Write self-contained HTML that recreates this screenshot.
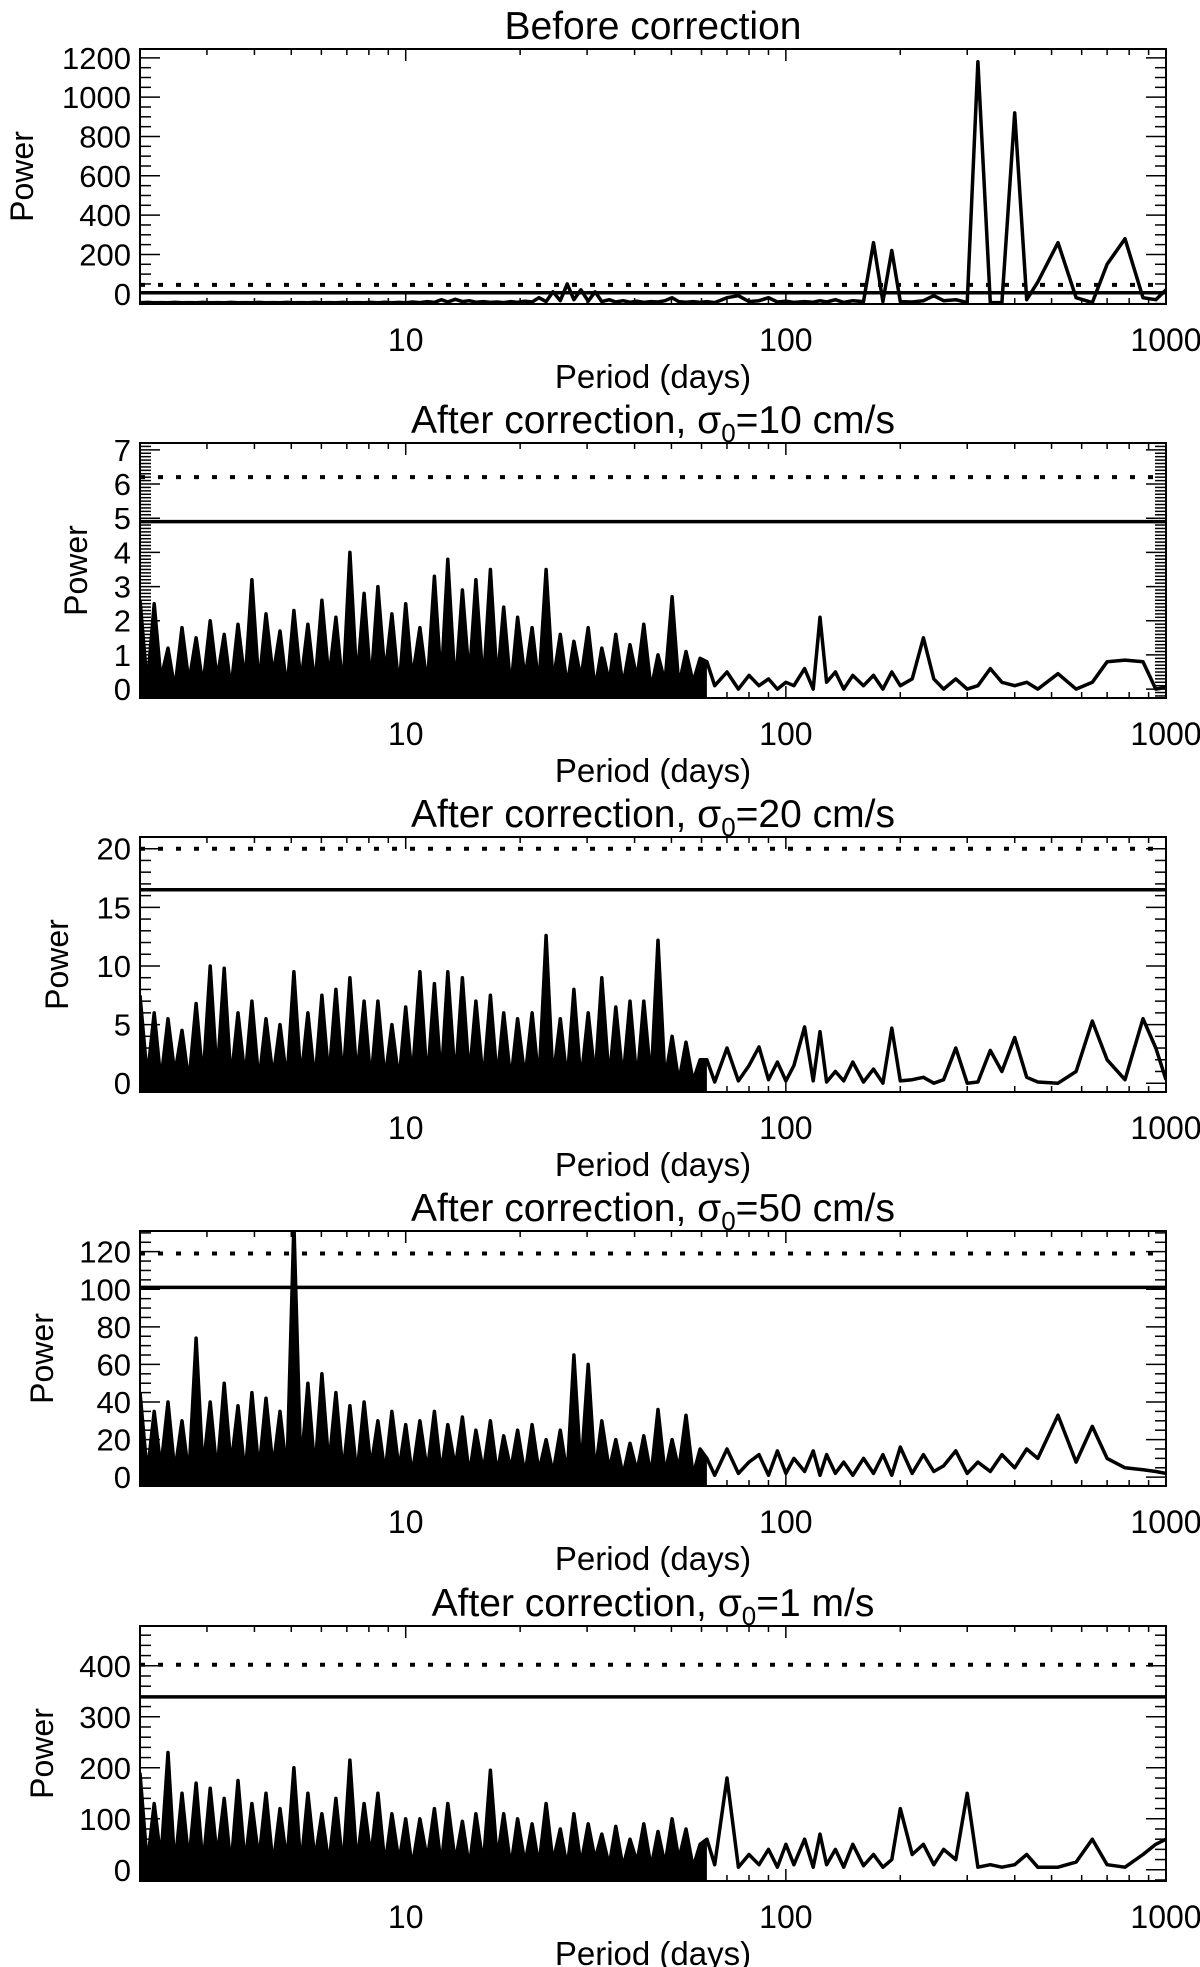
<!DOCTYPE html>
<html><head><meta charset="utf-8">
<style>
html,body{margin:0;padding:0;background:#fff;}
svg{display:block;font-family:"Liberation Sans",Arial,sans-serif;}
</style></head>
<body>
<svg id="fig" width="1200" height="1967" viewBox="0 0 1200 1967" xmlns="http://www.w3.org/2000/svg"></svg>
<script>
// Shared period grid for dense (short-period) region, days
const densePeriods = [2.00,2.09,2.18,2.27,2.37,2.47,2.58,2.69,2.81,2.93,
3.06,3.19,3.33,3.47,3.62,3.78,3.94,4.11,4.29,4.48,
4.67,4.87,5.08,5.30,5.53,5.77,6.02,6.28,6.55,6.84,
7.13,7.44,7.77,8.10,8.45,8.82,9.20,9.60,10.0,10.4,
10.9,11.4,11.9,12.4,12.9,13.5,14.1,14.7,15.3,16.0,
16.7,17.4,18.1,18.9,19.7,20.6,21.5,22.4,23.4,24.4,
25.5,26.6,27.7,28.9,30.2,31.5,32.8,34.3,35.7,37.3,
38.9,40.6,42.3,44.2,46.1,48.1,50.2,52.3,54.6,57.0,59.5];
// Shared period grid for long-period tail, days
const tailPeriods = [62,65,70,75,80,85,90,95,100,105,
112,118,123,128,135,142,150,160,170,180,
190,200,215,230,245,260,280,300,320,345,
370,400,430,460,520,580,640,700,780,870,940,1000];

// Panel 1: before correction
const dense1 = [-46,-44,-46,-45,-46,-44,-46,-45,-46,-44,
-46,-45,-46,-44,-46,-45,-46,-44,-46,-45,
-46,-44,-46,-45,-46,-44,-46,-45,-46,-44,
-46,-45,-46,-44,-46,-43,-46,-44,-46,-42,
-45,-40,-44,-30,-42,-28,-40,-35,-43,-40,
-44,-42,-45,-40,-44,-38,-42,-20,-40,10,
-35,50,-30,20,-38,10,-40,-30,-42,-35,
-43,-38,-44,-40,-42,-35,-20,-40,-43,-40,-44];
const tail1 = [-40,-45,-20,-10,-40,-35,-20,-42,-38,-44,
-40,-43,-35,-42,-30,-44,-35,-40,260,-40,
220,-40,-42,-35,-10,-35,-30,-45,1180,-45,
-45,920,-30,60,260,-20,-45,150,280,-20,-30,20];
// Panel 2: sigma0 = 10 cm/s
const dense2 = [2.6,0.1,2.5,0.3,1.2,0.0,1.8,0.2,1.5,0.1,
2.0,0.3,1.6,0.0,1.9,0.2,3.2,0.1,2.2,0.4,
1.7,0.0,2.3,0.2,1.9,0.1,2.6,0.3,2.1,0.0,
4.0,0.2,2.8,0.1,3.0,0.4,2.2,0.0,2.5,0.3,
1.8,0.1,3.3,0.2,3.8,0.0,2.9,0.3,3.2,0.1,
3.5,0.2,2.4,0.0,2.1,0.3,1.8,0.1,3.5,0.2,
1.6,0.1,1.4,0.3,1.8,0.0,1.2,0.2,1.6,0.1,
1.3,0.3,1.9,0.0,1.0,0.2,2.7,0.1,1.1,0.2,0.9];
const tail2 = [0.8,0.1,0.5,0.0,0.4,0.1,0.3,0.0,0.2,0.1,
0.6,0.0,2.1,0.2,0.5,0.0,0.4,0.1,0.4,0.0,
0.5,0.1,0.3,1.5,0.3,0.0,0.3,0.0,0.1,0.6,
0.2,0.1,0.2,0.0,0.45,0.0,0.2,0.8,0.85,0.8,0.0,0.05];
// Panel 3: sigma0 = 20 cm/s
const dense3 = [7.5,0.5,6.0,0.2,5.5,0.8,4.5,0.1,6.8,0.3,
10.0,0.6,9.8,0.2,6.0,0.4,7.0,0.1,5.5,0.5,
5.0,0.2,9.5,0.3,6.0,0.1,7.5,0.4,8.0,0.2,
9.0,0.5,7.0,0.1,7.0,0.3,5.0,0.2,6.5,0.4,
9.5,0.1,8.5,0.3,9.5,0.2,9.0,0.5,7.0,0.1,
7.5,0.3,6.0,0.2,5.5,0.4,6.0,0.1,12.6,0.3,
5.5,0.2,8.0,0.1,6.0,0.4,9.0,0.2,6.5,0.3,
7.0,0.1,7.0,0.2,12.2,0.3,4.0,0.1,3.5,0.2,2.0];
const tail3 = [2.0,0.1,3.0,0.2,1.5,3.1,0.3,1.8,0.2,1.5,
4.8,0.2,4.4,0.1,1.0,0.2,1.8,0.1,1.2,0.0,
4.7,0.2,0.3,0.5,0.0,0.3,3.0,0.0,0.1,2.8,
1.0,3.9,0.5,0.1,0.0,1.0,5.3,2.0,0.3,5.5,3.0,0.3];
// Panel 4: sigma0 = 50 cm/s
const dense4 = [45,2,35,5,40,3,30,1,74,4,
40,2,50,6,38,1,45,3,42,5,
35,2,135,4,50,3,55,6,45,2,
38,1,40,5,30,2,35,4,28,1,
30,3,35,2,28,5,32,1,25,3,
30,2,22,4,25,1,28,3,20,2,
25,1,65,3,60,2,30,4,20,1,
18,3,22,1,36,2,20,4,33,1,15];
const tail4 = [10,1,15,2,8,12,1,14,2,10,
3,14,1,12,2,8,1,10,2,12,
1,16,2,12,3,6,14,2,8,3,
12,5,15,10,33,8,27,10,5,4,3,2];
// Panel 5: sigma0 = 1 m/s
const dense5 = [190,10,130,20,230,5,150,15,170,8,
160,25,140,5,175,12,130,20,150,8,
120,15,200,5,150,20,110,10,140,5,
215,12,130,25,150,8,110,15,100,5,
100,20,120,8,130,15,95,5,110,10,
195,20,110,5,100,12,90,8,130,15,
80,5,110,10,90,20,70,8,85,5,
60,15,90,5,75,10,100,20,80,5,50];
const tail5 = [60,10,180,5,30,10,40,5,50,10,
60,5,70,10,40,5,50,8,30,5,
20,120,30,50,10,40,20,150,5,10,
5,10,30,5,5,15,60,10,5,30,50,60];

const titles = ["Before correction","After correction, σ0=10 cm/s","After correction, σ0=20 cm/s","After correction, σ0=50 cm/s","After correction, σ0=1 m/s"];
const yTickLabels = [[0,200,400,600,800,1000,1200],[0,1,2,3,4,5,6,7],[0,5,10,15,20],[0,20,40,60,80,100,120],[0,100,200,300,400]];
const solidLevels = [5,4.9,16.5,101,339];
const dottedLevels = [45,6.2,20,119,402];
const xTickLabels = [10,100,1000];

const panels = [
 {top:49,  ymin:-52, ymax:1245, minor:50,  dense:dense1, tail:tail1, ylabX:22, fill:false},
 {top:443, ymin:-0.26,ymax:7.2,  minor:0.1, dense:dense2, tail:tail2, ylabX:76, fill:true},
 {top:837, ymin:-0.75,ymax:21,   minor:1,   dense:dense3, tail:tail3, ylabX:57, fill:true},
 {top:1231,ymin:-4.7, ymax:131,  minor:5,   dense:dense4, tail:tail4, ylabX:42, fill:true},
 {top:1626,ymin:-22,  ymax:478,  minor:20,  dense:dense5, tail:tail5, ylabX:42, fill:true}
];
const L=140, R=1166, H=255, xmin=2, xmax=1000;
const NS="http://www.w3.org/2000/svg";
const svg=document.getElementById('fig');
function el(tag,attrs,parent){const e=document.createElementNS(NS,tag);for(const k in attrs)e.setAttribute(k,attrs[k]);(parent||svg).appendChild(e);return e;}
function xs(p){return L+(Math.log10(p)-Math.log10(xmin))/(Math.log10(xmax)-Math.log10(xmin))*(R-L);}

panels.forEach((pn,i)=>{
  const g=el('g',{});
  
  
  const T=pn.top,B=T+H;
  const ys=v=>B-(v-pn.ymin)/(pn.ymax-pn.ymin)*H;
  const clipId='c'+i;
  const cp=el('clipPath',{id:clipId},g);el('rect',{x:L,y:T,width:R-L,height:H},cp);
  // title
  const t=el('text',{x:(L+R)/2,y:T-10,'text-anchor':'middle','font-size':39},g);
  
  
  if(i===0){t.textContent=titles[0];}
  else{const parts=titles[i].split('σ0');t.appendChild(document.createTextNode(parts[0]+'σ'));
    const s=el('tspan',{'font-size':26,dy:9},t);s.textContent='0';
    const s2=el('tspan',{dy:-9},t);s2.textContent=parts[1];}
  // series
  const pts=[];
  pn.dense.forEach((v,k)=>{if(k<densePeriods.length)pts.push([xs(densePeriods[k]),ys(v)]);});
  pn.tail.forEach((v,k)=>{if(k<tailPeriods.length)pts.push([xs(tailPeriods[k]),ys(v)]);});
  const d=pts.map((p,k)=>(k?'L':'M')+p[0].toFixed(1)+' '+p[1].toFixed(1)).join(' ');
  if(pn.fill){
    const nd=pn.dense.length;
    const fp=pts.slice(0,nd+1);
    const fd='M'+fp[0][0].toFixed(1)+' '+B+' '+fp.map(p=>'L'+p[0].toFixed(1)+' '+p[1].toFixed(1)).join(' ')+' L'+fp[fp.length-1][0].toFixed(1)+' '+B+' Z';
    const f=el('path',{d:fd,fill:'#000','clip-path':'url(#'+clipId+')'},g);
    
    
  }
  const line=el('path',{d:d,fill:'none',stroke:'#000','stroke-width':3.5,'stroke-linejoin':'round','clip-path':'url(#'+clipId+')'},g);
  
  
  // threshold lines
  const sl=el('line',{x1:L,x2:R,y1:ys(solidLevels[i]),y2:ys(solidLevels[i]),stroke:'#000','stroke-width':3.5},g);
  
  
  const dl=el('line',{x1:L,x2:R,y1:ys(dottedLevels[i]),y2:ys(dottedLevels[i]),stroke:'#000','stroke-width':4,'stroke-dasharray':'5 13'},g);
  
  
  // frame
  const fr=el('rect',{x:L,y:T,width:R-L,height:H,fill:'none',stroke:'#000','stroke-width':2},g);
  
  
  // x ticks
  for(let dec=1;dec<=1000;dec*=10){for(let m=1;m<10;m++){const p=dec*m;if(p<xmin||p>xmax)continue;const x=xs(p);const len=(m===1)?12:6;
    el('line',{x1:x,x2:x,y1:B,y2:B-len,stroke:'#000','stroke-width':1.5},g);
    el('line',{x1:x,x2:x,y1:T,y2:T+len,stroke:'#000','stroke-width':1.5},g);}}
  xTickLabels.forEach(v=>{const tx=el('text',{x:xs(v),y:B+47,'text-anchor':'middle','font-size':32},g);
    
    
    tx.textContent=v;});
  const xl=el('text',{x:(L+R)/2,y:B+84,'text-anchor':'middle','font-size':33},g);
  
  
  xl.textContent='Period (days)';
  // y ticks
  const labs=yTickLabels[i];const major=labs[1]-labs[0];
  const nMinor=Math.round((pn.ymax-0)/pn.minor);
  for(let k=Math.ceil(pn.ymin/pn.minor);k<=nMinor;k++){const v=k*pn.minor;if(v<pn.ymin||v>pn.ymax)continue;
    const isMaj=Math.abs(v/major-Math.round(v/major))<1e-6;const len=isMaj?20:11;const y=ys(v);
    el('line',{x1:L,x2:L+len,y1:y,y2:y,stroke:'#000','stroke-width':1.5},g);
    el('line',{x1:R,x2:R-len,y1:y,y2:y,stroke:'#000','stroke-width':1.5},g);}
  labs.forEach(v=>{const ty=el('text',{x:131,y:ys(v)+11,'text-anchor':'end','font-size':31},g);
    
    
    ty.textContent=v;});
  const yl=el('text',{x:pn.ylabX,y:T+H/2,'text-anchor':'middle','font-size':32,transform:'rotate(-90 '+pn.ylabX+' '+(T+H/2)+') translate(0 11)'},g);
  
  
  yl.textContent='Power';
});
</script>
</body></html>
